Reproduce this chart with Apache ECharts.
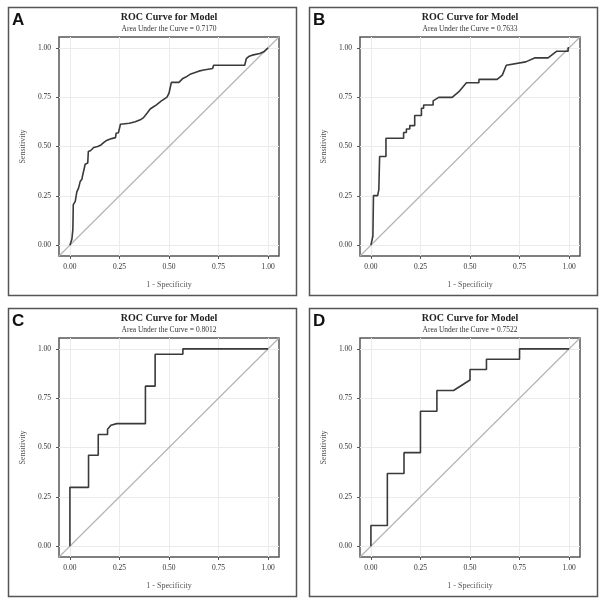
<!DOCTYPE html>
<html>
<head>
<meta charset="utf-8">
<title>ROC Curves</title>
<script src="https://cdn.jsdelivr.net/npm/echarts@6/dist/echarts.min.js"></script>
<style>
  html, body { margin: 0; padding: 0; background: #fff; }
  #main { width: 602px; height: 602px; }
</style>
</head>
<body>
<div id="main"></div>
<script>
// panel letters and AUC text
var panelNames = ['A', 'B', 'C', 'D'];
var aucValues = ['0.7170', '0.7633', '0.8012', '0.7522'];
var tickValues = [0, 0.25, 0.5, 0.75, 1];

// ROC points [1 - specificity, sensitivity]
var rocA = [[0, 0], [0.01, 0.03], [0.015, 0.08], [0.017, 0.205], [0.027, 0.222], [0.035, 0.222],
    [0.035, 0.27], [0.044, 0.29], [0.05, 0.30], [0.052, 0.323], [0.061, 0.335], [0.063, 0.348],
    [0.072, 0.348], [0.077, 0.41], [0.09, 0.416], [0.093, 0.475], [0.105, 0.48], [0.12, 0.495],
    [0.14, 0.50], [0.157, 0.508], [0.17, 0.52], [0.182, 0.529], [0.21, 0.54], [0.23, 0.545],
    [0.233, 0.567], [0.245, 0.57], [0.255, 0.613], [0.3, 0.618], [0.33, 0.625], [0.355, 0.635],
    [0.37, 0.645], [0.38, 0.657], [0.39, 0.67], [0.405, 0.69], [0.42, 0.70], [0.435, 0.71],
    [0.445, 0.72], [0.46, 0.73], [0.475, 0.74], [0.49, 0.75], [0.50, 0.77], [0.51, 0.78],
    [0.512, 0.825], [0.55, 0.825], [0.56, 0.835], [0.57, 0.845], [0.585, 0.852], [0.595, 0.86],
    [0.61, 0.868], [0.62, 0.875], [0.65, 0.882], [0.675, 0.888], [0.72, 0.895], [0.725, 0.912],
    [0.882, 0.912], [0.89, 0.945], [0.905, 0.958], [0.92, 0.963], [0.958, 0.971], [0.978, 0.98],
    [1, 1]];
var rocB = [[0, 0], [0.01, 0.045], [0.013, 0.251], [0.034, 0.251], [0.04, 0.281], [0.044, 0.449],
    [0.076, 0.449], [0.076, 0.542], [0.165, 0.542], [0.165, 0.571], [0.179, 0.571], [0.179, 0.589],
    [0.196, 0.589], [0.196, 0.606], [0.221, 0.606], [0.221, 0.657], [0.255, 0.657], [0.255, 0.694],
    [0.266, 0.694], [0.266, 0.71], [0.314, 0.71], [0.314, 0.731], [0.342, 0.749], [0.41, 0.749],
    [0.444, 0.778], [0.482, 0.823], [0.545, 0.823], [0.545, 0.84], [0.637, 0.84], [0.663, 0.862],
    [0.683, 0.912], [0.781, 0.929], [0.826, 0.949], [0.894, 0.949], [0.938, 0.983], [0.995, 0.983],
    [0.995, 1], [1, 1]];
var rocC = [[0, 0], [0, 0.298], [0.094, 0.298], [0.094, 0.461], [0.143, 0.461], [0.143, 0.566],
    [0.19, 0.566], [0.19, 0.593], [0.207, 0.613], [0.236, 0.621], [0.381, 0.621], [0.381, 0.811],
    [0.43, 0.811], [0.43, 0.973], [0.57, 0.973], [0.57, 1], [1, 1]];
var rocD = [[0, 0], [0, 0.105], [0.083, 0.105], [0.083, 0.368], [0.167, 0.368], [0.167, 0.474],
    [0.25, 0.474], [0.25, 0.684], [0.333, 0.684], [0.333, 0.789], [0.417, 0.789], [0.5, 0.842],
    [0.5, 0.895], [0.583, 0.895], [0.583, 0.947], [0.75, 0.947], [0.75, 1], [1, 1]];

var rocData = [rocA, rocB, rocC, rocD];
var axMin = -0.055, axMax = 1.055;
var serif = 'Liberation Serif, Times New Roman, serif';

var grids = [], xAxes = [], yAxes = [], series = [], graphics = [];
for (var i = 0; i < 4; i++) {
    var ox = (i % 2) * 301;
    var oy = Math.floor(i / 2) * 301;
    grids.push({
        left: ox + 59, top: oy + 37, width: 220, height: 219,
        show: true, borderColor: '#555', borderWidth: 1.5
    });
    var axisBase = {
        gridIndex: i, type: 'value', min: axMin, max: axMax,
        nameLocation: 'middle',
        nameTextStyle: {fontFamily: serif, fontSize: 8, color: '#555'},
        axisLine: {show: false, onZero: false},
        axisTick: {show: true, inside: false, length: 3, customValues: tickValues, lineStyle: {color: '#555'}},
        axisLabel: {
            customValues: tickValues, fontFamily: serif, fontSize: 7.5, color: '#333',
            formatter: function (v) { return v.toFixed(2); }
        },
        splitLine: {show: true, lineStyle: {color: '#ebebeb', width: 1}}
    };
    xAxes.push(Object.assign({}, axisBase, {name: '1 - Specificity', nameGap: 25, position: 'bottom',
        axisLabel: Object.assign({}, axisBase.axisLabel, {margin: 7})}));
    yAxes.push(Object.assign({}, axisBase, {name: 'Sensitivity', nameGap: 32, position: 'left',
        axisLabel: Object.assign({}, axisBase.axisLabel, {margin: 8})}));
    // reference diagonal
    series.push({
        type: 'line', xAxisIndex: i, yAxisIndex: i, symbol: 'none', silent: true,
        data: [[axMin, axMin], [axMax, axMax]],
        lineStyle: {color: '#b4b4b4', width: 1.2}
    });
    series.push({
        type: 'line', xAxisIndex: i, yAxisIndex: i, symbol: 'none',
        data: rocData[i],
        lineStyle: {color: '#3a3a3a', width: 1.6}
    });
    // outer frame
    graphics.push({
        type: 'rect', left: ox + 6, top: oy + 5,
        shape: {width: 288, height: 288},
        style: {fill: null, stroke: '#555', lineWidth: 1.5}
    });
    graphics.push({
        type: 'text', x: ox + 12, y: oy + 12,
        style: {text: panelNames[i], font: 'bold 17px Liberation Sans, Arial, sans-serif', fill: '#111'}
    });
    graphics.push({
        type: 'text', x: ox + 169, y: oy + 12,
        style: {text: 'ROC Curve for Model', font: 'bold 10px ' + serif, fill: '#222', textAlign: 'center'}
    });
    graphics.push({
        type: 'text', x: ox + 169, y: oy + 25,
        style: {text: 'Area Under the Curve = ' + aucValues[i], font: '7.5px ' + serif, fill: '#333', textAlign: 'center'}
    });
}

var myChart = echarts.init(document.getElementById('main'));
var option = {
    backgroundColor: '#fff',
    animation: false,
    grid: grids,
    xAxis: xAxes,
    yAxis: yAxes,
    series: series,
    graphic: graphics
};
myChart.setOption(option);
</script>
</body>
</html>
